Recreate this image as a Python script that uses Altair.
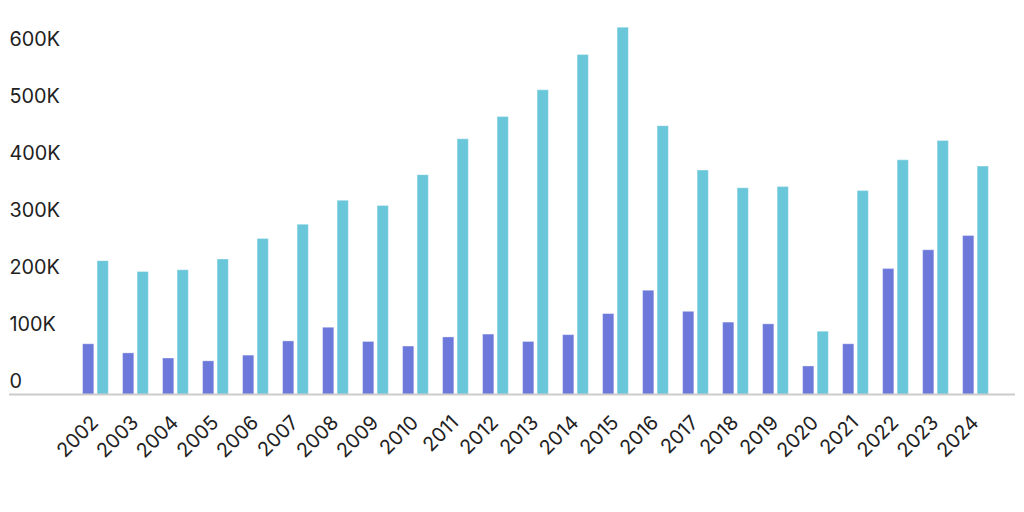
import altair as alt
import pandas as pd

years = [str(y) for y in range(2002, 2025)]
series_a = [89000, 73000, 64000, 59000, 69000, 94000, 118000, 93000, 85000, 101000,
            106000, 93000, 105000, 142000, 183000, 146000, 127000, 124000, 50000, 89000,
            221000, 254000, 279000]
series_b = [235000, 216000, 219000, 238000, 274000, 299000, 341000, 332000, 386000, 449000,
            488000, 535000, 597000, 645000, 472000, 394000, 363000, 365000, 111000, 358000,
            412000, 446000, 401000]
series_names = ["A", "B"]
colors = ["#6c79db", "#6ac7da"]
y_ticks = [0, 100000, 200000, 300000, 400000, 500000, 600000]

rows = []
for i, yr in enumerate(years):
    rows.append({"year": yr, "series": series_names[0], "value": series_a[i]})
    rows.append({"year": yr, "series": series_names[1], "value": series_b[i]})
df = pd.DataFrame(rows)

W = 1016
H = 388
FONT = "Inter"

y_scale = alt.Scale(domain=[0, 674800], nice=False, zero=True)

bars = alt.Chart(df).mark_bar(stroke="white", strokeWidth=1, strokeOpacity=0.35).encode(
    x=alt.X("year:N", sort=years,
            scale=alt.Scale(range=[74.3, 989.1], paddingInner=0.356, paddingOuter=0),
            axis=alt.Axis(title=None, labelAngle=-45, labelAlign="right", labelBaseline="middle",
                          labelPadding=25, labelFontSize=20, labelColor="#222", labelFont=FONT,
                          domain=False, ticks=False, grid=False)),
    xOffset=alt.XOffset("series:N", sort=series_names,
                        scale=alt.Scale(paddingInner=0.225, paddingOuter=0)),
    y=alt.Y("value:Q", scale=y_scale,
            axis=alt.Axis(title=None, values=y_ticks, orient="left",
                          labelExpr="datum.value == 0 ? '0' : (datum.value / 1000) + 'K'",
                          labelAlign="left", labelBaseline="alphabetic", labelOffset=-7,
                          labelPadding=0, tickSize=0, ticks=False, domain=False, grid=False,
                          labelFontSize=20, labelColor="#222", labelFont=FONT, labelFlush=False)),
    color=alt.Color("series:N", sort=series_names,
                    scale=alt.Scale(domain=series_names, range=colors), legend=None),
)

baseline = alt.Chart(alt.Data(values=[{"v": 0}])).mark_rule(color="#cccccc", strokeWidth=2).encode(
    y=alt.Y("v:Q", scale=y_scale),
    x=alt.value(0),
    x2=alt.value(W),
)

chart = alt.layer(bars, baseline).properties(
    width=W, height=H, padding=0
).configure_view(stroke=None)

chart.save("out.html", embed_options={"renderer": "svg", "actions": False})
